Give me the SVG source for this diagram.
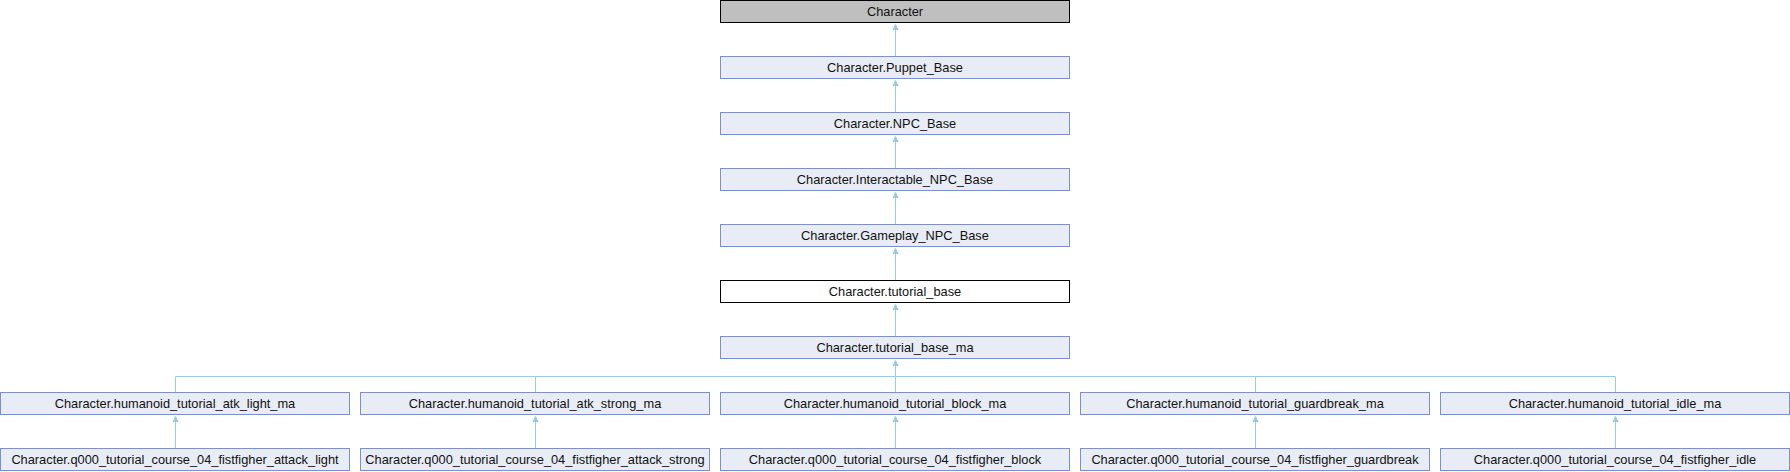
<svg xmlns="http://www.w3.org/2000/svg" width="1790" height="472" viewBox="0 0 1790 472">
<style>
.n rect{fill:#e8ecf4;stroke:#7c90ca;stroke-width:1}
.n.g rect{fill:#bfbfbf;stroke:#000}
.n.w rect{fill:#fff;stroke:#000}
.n text{font-family:"Liberation Sans",Arial,sans-serif;font-size:12.8px;fill:#111;text-anchor:middle}
.e line,.e polyline{stroke:#9ccbe9;stroke-width:1;fill:none}
.e polygon{fill:#9ccbe9;stroke:#9ccbe9;stroke-width:1}
</style>
<rect width="1790" height="472" fill="#fff"/>
<g id="connectors" class="e">
<line x1="895.5" y1="29" x2="895.5" y2="56"/><polygon points="895.5,24.5 893,29.5 898,29.5"/>
<line x1="895.5" y1="85" x2="895.5" y2="112"/><polygon points="895.5,80.5 893,85.5 898,85.5"/>
<line x1="895.5" y1="141" x2="895.5" y2="168"/><polygon points="895.5,136.5 893,141.5 898,141.5"/>
<line x1="895.5" y1="197" x2="895.5" y2="224"/><polygon points="895.5,192.5 893,197.5 898,197.5"/>
<line x1="895.5" y1="253" x2="895.5" y2="280"/><polygon points="895.5,248.5 893,253.5 898,253.5"/>
<line x1="895.5" y1="309" x2="895.5" y2="336"/><polygon points="895.5,304.5 893,309.5 898,309.5"/>
<line x1="895.5" y1="365" x2="895.5" y2="392"/><polygon points="895.5,360.5 893,365.5 898,365.5"/>
<line x1="175.5" y1="376.5" x2="1615.5" y2="376.5"/>
<line x1="175.5" y1="376.5" x2="175.5" y2="392"/>
<line x1="535.5" y1="376.5" x2="535.5" y2="392"/>
<line x1="1255.5" y1="376.5" x2="1255.5" y2="392"/>
<line x1="1615.5" y1="376.5" x2="1615.5" y2="392"/>
<line x1="175.5" y1="421" x2="175.5" y2="448"/><polygon points="175.5,416.5 173,421.5 178,421.5"/>
<line x1="535.5" y1="421" x2="535.5" y2="448"/><polygon points="535.5,416.5 533,421.5 538,421.5"/>
<line x1="895.5" y1="421" x2="895.5" y2="448"/><polygon points="895.5,416.5 893,421.5 898,421.5"/>
<line x1="1255.5" y1="421" x2="1255.5" y2="448"/><polygon points="1255.5,416.5 1253,421.5 1258,421.5"/>
<line x1="1615.5" y1="421" x2="1615.5" y2="448"/><polygon points="1615.5,416.5 1613,421.5 1618,421.5"/>
</g>
<g id="n0" class="n g"><rect x="720.5" y="0.5" width="349" height="22"/><text x="895" y="16">Character</text></g>
<g id="n1" class="n"><rect x="720.5" y="56.5" width="349" height="22"/><text x="895" y="72">Character.Puppet_Base</text></g>
<g id="n2" class="n"><rect x="720.5" y="112.5" width="349" height="22"/><text x="895" y="128">Character.NPC_Base</text></g>
<g id="n3" class="n"><rect x="720.5" y="168.5" width="349" height="22"/><text x="895" y="184">Character.Interactable_NPC_Base</text></g>
<g id="n4" class="n"><rect x="720.5" y="224.5" width="349" height="22"/><text x="895" y="240">Character.Gameplay_NPC_Base</text></g>
<g id="n5" class="n w"><rect x="720.5" y="280.5" width="349" height="22"/><text x="895" y="296">Character.tutorial_base</text></g>
<g id="n6" class="n"><rect x="720.5" y="336.5" width="349" height="22"/><text x="895" y="352">Character.tutorial_base_ma</text></g>
<g id="n7" class="n"><rect x="0.5" y="392.5" width="349" height="22"/><text x="175" y="408">Character.humanoid_tutorial_atk_light_ma</text></g>
<g id="n8" class="n"><rect x="360.5" y="392.5" width="349" height="22"/><text x="535" y="408">Character.humanoid_tutorial_atk_strong_ma</text></g>
<g id="n9" class="n"><rect x="720.5" y="392.5" width="349" height="22"/><text x="895" y="408">Character.humanoid_tutorial_block_ma</text></g>
<g id="n10" class="n"><rect x="1080.5" y="392.5" width="349" height="22"/><text x="1255" y="408">Character.humanoid_tutorial_guardbreak_ma</text></g>
<g id="n11" class="n"><rect x="1440.5" y="392.5" width="349" height="22"/><text x="1615" y="408">Character.humanoid_tutorial_idle_ma</text></g>
<g id="n12" class="n"><rect x="0.5" y="448.5" width="349" height="22"/><text x="175" y="464">Character.q000_tutorial_course_04_fistfigher_attack_light</text></g>
<g id="n13" class="n"><rect x="360.5" y="448.5" width="349" height="22"/><text x="535" y="464">Character.q000_tutorial_course_04_fistfigher_attack_strong</text></g>
<g id="n14" class="n"><rect x="720.5" y="448.5" width="349" height="22"/><text x="895" y="464">Character.q000_tutorial_course_04_fistfigher_block</text></g>
<g id="n15" class="n"><rect x="1080.5" y="448.5" width="349" height="22"/><text x="1255" y="464">Character.q000_tutorial_course_04_fistfigher_guardbreak</text></g>
<g id="n16" class="n"><rect x="1440.5" y="448.5" width="349" height="22"/><text x="1615" y="464">Character.q000_tutorial_course_04_fistfigher_idle</text></g>
</svg>
